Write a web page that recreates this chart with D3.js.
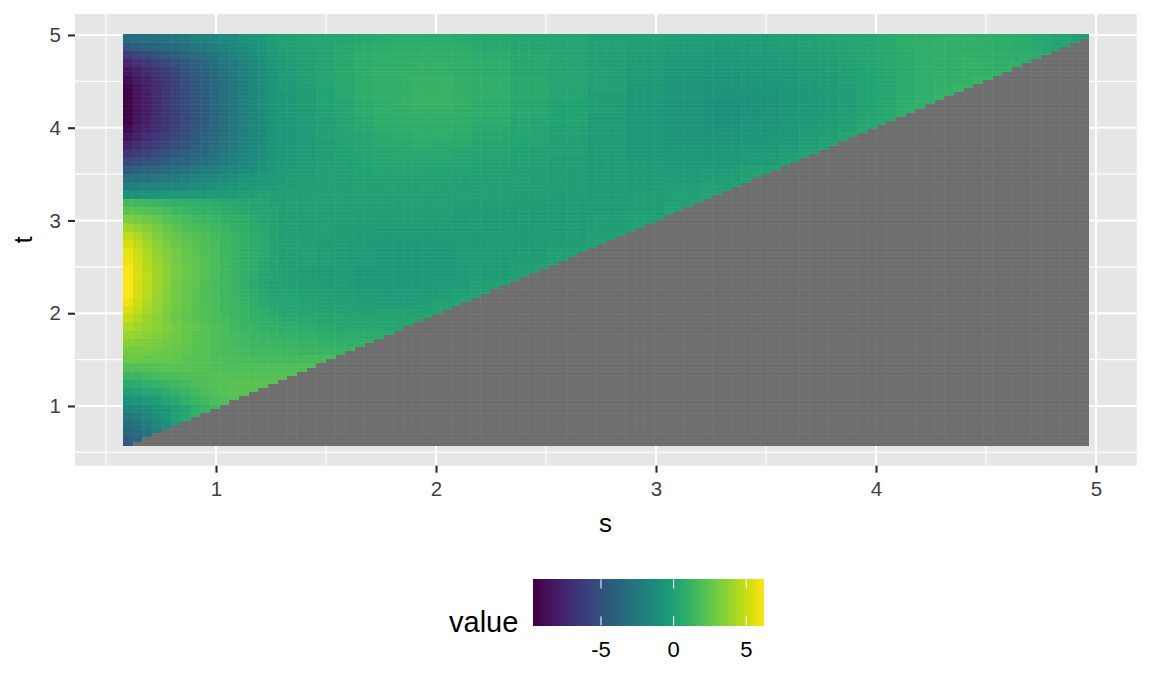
<!DOCTYPE html>
<html><head><meta charset="utf-8">
<script src="https://cdn.jsdelivr.net/npm/d3@7"></script>
<style>html,body{margin:0;padding:0;background:#fff}svg{display:block}text{font-family:"Liberation Sans",Arial,sans-serif}</style>
</head><body><svg id="c" width="1152" height="691"></svg>
<script>
const xTicks=[1,2,3,4,5], yTicks=[1,2,3,4,5], legendTicks=[-5,0,5];
const xMinor=[0.5,1.5,2.5,3.5,4.5], yMinor=[0.5,1.5,2.5,3.5,4.5];
const valueDomain=[-9.66,6.22];
const sExtent=[0.577,4.97], tExtent=[0.572,5.005], gridCells=100;
const columnSpans=[1,1,1,1,1,1,1,1,1,1,1,1,1,1,1,1, 2,2,2,2,2,2,2,2,2,2, 4,4,4,4,4,4,4,4, 2,2,2,2,2,2,2,2,2,2,2,2,2,2,2,2];
const rowSpan=2;
const valuesByRow=[
[-3.4,-3.3,-3.2,-3.1,-2.9,-2.7,-2.4,-2.2,-2,-1.8,-1.5,-1.3,-1,-.8,-.5,-.2, 0,.1,.2,.3,.4,.5,.6,.6,.6,.5, .4,.3,.2,0,-.1,-.2,-.2,-.2, -.1,0,.1,.2,.3,.5,.7,.8,.9,.9,.8,.7,.6,.4,.2,-.1],
[-4.6,-4.3,-4.1,-3.9,-3.7,-3.4,-3.1,-2.8,-2.5,-2.2,-1.9,-1.6,-1.3,-1,-.7,-.4, -.1,.1,.3,.4,.6,.7,.7,.8,.7,.7, .5,.3,.2,0,-.2,-.3,-.4,-.3, -.2,-.1,0,.1,.3,.5,.7,.8,.9,.9,.8,.7,.6,.4,.2],
[-6.2,-5.7,-5.4,-5,-4.6,-4.3,-3.9,-3.5,-3.1,-2.7,-2.3,-1.9,-1.6,-1.2,-.9,-.5, -.2,0,.3,.5,.7,.8,.8,.9,.9,.8, .6,.4,.2,0,-.2,-.4,-.5,-.4, -.3,-.2,-.1,.1,.3,.4,.6,.8,.9,1,.9,.8,.7,.6],
[-7.5,-6.9,-6.5,-6,-5.6,-5.1,-4.6,-4.1,-3.6,-3.1,-2.7,-2.3,-1.8,-1.4,-1.1,-.7, -.3,0,.3,.5,.7,.8,.9,1,1,.9, .7,.4,.2,-.1,-.3,-.5,-.6,-.5, -.4,-.3,-.2,0,.2,.4,.6,.8,.9,1,1,.9,.8],
[-8.4,-7.7,-7.3,-6.7,-6.2,-5.6,-5,-4.5,-4,-3.4,-2.9,-2.4,-2,-1.6,-1.2,-.8, -.4,-.1,.2,.5,.7,.9,1,1,1,.9, .7,.4,.2,-.1,-.4,-.6,-.7,-.6, -.5,-.4,-.2,-.1,.1,.4,.6,.8,.9,1,1,1],
[-9,-8.2,-7.7,-7,-6.5,-5.9,-5.3,-4.8,-4.2,-3.6,-3.1,-2.6,-2.1,-1.6,-1.2,-.8, -.4,-.1,.2,.5,.7,.9,1,1.1,1.1,1, .8,.5,.2,-.1,-.4,-.7,-.8,-.7, -.6,-.4,-.3,-.1,.1,.3,.6,.8,.9,1,1.1],
[-9.4,-8.5,-7.9,-7.2,-6.6,-6,-5.4,-4.9,-4.3,-3.7,-3.1,-2.6,-2.1,-1.6,-1.2,-.8, -.4,-.2,.1,.4,.7,.9,1,1.1,1.1,1, .8,.5,.2,-.1,-.5,-.8,-.9,-.8, -.6,-.5,-.3,-.2,.1,.3,.6,.8,1,1.1],
[-9.6,-8.6,-8,-7.2,-6.6,-6,-5.4,-4.9,-4.4,-3.7,-3.1,-2.6,-2.1,-1.6,-1.2,-.8, -.5,-.2,.1,.4,.7,.9,1,1.1,1.1,1, .8,.5,.2,-.2,-.5,-.8,-.9,-.9, -.7,-.5,-.4,-.2,.1,.3,.6,.8,1.1],
[-9.65,-8.6,-8,-7.3,-6.6,-6,-5.4,-4.9,-4.4,-3.7,-3.1,-2.6,-2.1,-1.6,-1.2,-.8, -.5,-.2,.1,.3,.6,.8,1,1.1,1.1,1, .7,.4,.1,-.2,-.6,-.9,-1,-.9, -.7,-.6,-.4,-.2,.1,.4,.7,.9],
[-9.6,-8.6,-8,-7.3,-6.7,-6.1,-5.5,-5,-4.4,-3.8,-3.2,-2.7,-2.2,-1.7,-1.3,-.9, -.5,-.3,0,.3,.6,.8,.9,1,1,.9, .7,.4,.1,-.2,-.6,-.9,-1,-.9, -.7,-.6,-.4,-.2,.1,.4,.8],
[-9.4,-8.5,-7.9,-7.2,-6.7,-6.1,-5.5,-5,-4.4,-3.8,-3.2,-2.7,-2.2,-1.7,-1.3,-.9, -.6,-.3,-.1,.2,.5,.7,.8,.9,.9,.8, .6,.3,.1,-.3,-.6,-.9,-1,-.9, -.6,-.5,-.3,-.1,.2,.5],
[-9,-8.1,-7.6,-7,-6.5,-5.9,-5.4,-4.9,-4.3,-3.7,-3.1,-2.6,-2.1,-1.7,-1.3,-.9, -.6,-.4,-.1,.2,.4,.6,.7,.8,.8,.7, .5,.3,0,-.3,-.6,-.8,-.9,-.8, -.6,-.4,-.2,0,.4],
[-8.4,-7.7,-7.2,-6.6,-6.1,-5.6,-5.1,-4.6,-4.1,-3.6,-3,-2.6,-2.1,-1.7,-1.3,-.9, -.6,-.4,-.1,.1,.3,.5,.6,.7,.7,.6, .4,.2,0,-.3,-.5,-.8,-.8,-.7, -.5,-.3,-.1,.2],
[-7.7,-7.1,-6.6,-6.1,-5.7,-5.2,-4.7,-4.3,-3.8,-3.3,-2.8,-2.4,-2,-1.6,-1.2,-.8, -.6,-.4,-.2,.1,.3,.4,.5,.6,.5,.5, .3,.1,-.1,-.3,-.5,-.7,-.7,-.6, -.4,-.2,.1],
[-6.8,-6.3,-5.9,-5.5,-5.1,-4.6,-4.2,-3.8,-3.4,-3,-2.6,-2.2,-1.8,-1.5,-1.1,-.8, -.5,-.3,-.2,0,.2,.3,.4,.4,.4,.3, .2,0,-.1,-.3,-.5,-.6,-.6,-.4, -.2,0],
[-5.7,-5.3,-5,-4.7,-4.4,-4,-3.7,-3.3,-3,-2.6,-2.3,-2,-1.6,-1.3,-1,-.7, -.5,-.3,-.1,0,.1,.2,.3,.3,.3,.2, .1,0,-.2,-.3,-.4,-.5,-.5,-.3, 0],
[-4.4,-4.1,-3.9,-3.6,-3.4,-3.1,-2.9,-2.6,-2.4,-2.1,-1.8,-1.6,-1.3,-1.1,-.8,-.6, -.4,-.3,-.1,0,.1,.2,.2,.2,.1,.1, 0,-.1,-.2,-.3,-.4,-.4,-.3,-.1],
[-3.2,-3,-2.9,-2.7,-2.5,-2.3,-2.1,-1.9,-1.7,-1.5,-1.3,-1.1,-.9,-.8,-.6,-.4, -.3,-.2,-.1,0,.1,.1,.1,.1,.1,0, 0,-.1,-.2,-.3,-.3,-.3,-.2,.1],
[-2.2,-2.1,-2,-1.9,-1.8,-1.6,-1.5,-1.3,-1.2,-1,-.9,-.8,-.6,-.5,-.4,-.3, -.2,-.1,-.1,0,0,0,0,0,0,0, -.1,-.1,-.2,-.3,-.3,-.2,0],
[-.9,-.9,-.8,-.8,-.7,-.6,-.6,-.5,-.5,-.4,-.3,-.3,-.2,-.2,-.1,-.1, -.1,-.1,0,0,0,0,0,0,0,-.1, -.1,-.2,-.2,-.3,-.2,-.1,.1],
[1.6,1.5,1.4,1.3,1.1,1,.9,.8,.7,.6,.5,.4,.3,.2,.1,0, 0,0,0,0,0,0,-.1,-.1,-.1,-.1, -.2,-.2,-.3,-.3,-.2,0],
[2.3,2.2,2.1,1.9,1.7,1.4,1.2,1.1,1,.9,.7,.6,.5,.3,.2,.1, 0,0,0,0,-.1,-.1,-.1,-.1,-.1,-.2, -.2,-.3,-.3,-.3,-.2,.1],
[3.2,3,2.8,2.5,2.2,1.9,1.7,1.5,1.4,1.2,1,.9,.7,.5,.3,.1, 0,0,-.1,-.1,-.2,-.2,-.2,-.2,-.2,-.3, -.3,-.3,-.3,-.2,-.1],
[4,3.7,3.4,3,2.6,2.3,2,1.8,1.6,1.4,1.2,1,.8,.6,.4,.2, 0,0,-.1,-.2,-.2,-.3,-.3,-.3,-.3,-.3, -.3,-.4,-.3,-.2,0],
[4.8,4.3,3.8,3.3,2.9,2.6,2.3,2.1,1.9,1.6,1.4,1.2,1,.7,.5,.2, 0,0,-.1,-.2,-.3,-.4,-.4,-.4,-.4,-.4, -.4,-.4,-.3,-.1],
[5.3,4.7,4.1,3.5,3.1,2.7,2.4,2.2,2,1.7,1.4,1.2,1,.7,.5,.2, 0,-.1,-.2,-.3,-.4,-.5,-.5,-.5,-.5,-.4, -.4,-.4,-.2,0],
[5.7,5,4.3,3.7,3.3,2.9,2.5,2.3,2,1.7,1.4,1.2,1,.7,.5,.2, 0,-.1,-.2,-.3,-.4,-.5,-.6,-.6,-.5,-.4, -.4,-.3,-.1],
[5.9,5.2,4.5,3.9,3.4,2.9,2.6,2.4,2.1,1.8,1.5,1.2,1,.7,.4,.2, 0,-.1,-.2,-.3,-.4,-.5,-.6,-.6,-.5,-.4, -.4,-.2,0],
[6.1,5.3,4.6,4,3.5,3,2.7,2.4,2.1,1.8,1.5,1.2,1,.7,.4,.1, -.1,-.2,-.3,-.4,-.5,-.5,-.6,-.6,-.5,-.4, -.3,-.1],
[6.2,5.3,4.7,4,3.5,3,2.7,2.4,2.1,1.7,1.5,1.2,.9,.6,.3,.1, -.1,-.2,-.3,-.4,-.5,-.6,-.6,-.6,-.5,-.4, -.3,0],
[6.2,5.2,4.6,4,3.5,2.9,2.6,2.4,2,1.7,1.5,1.2,.9,.6,.3,0, 0,-.1,-.2,-.3,-.5,-.5,-.6,-.5,-.4,-.3, -.1],
[6.1,5.2,4.6,3.9,3.4,2.9,2.6,2.3,2,1.7,1.5,1.3,1,.7,.4,.1, .1,0,-.1,-.2,-.4,-.4,-.4,-.4,-.3,-.1, 0],
[5.8,5,4.4,3.8,3.3,2.9,2.6,2.3,2,1.8,1.5,1.3,1.1,.8,.5,.3, .2,.1,0,-.1,-.2,-.3,-.3,-.2,-.1,.1],
[5.4,4.8,4.2,3.7,3.2,2.8,2.5,2.2,2,1.8,1.5,1.3,1.2,.9,.7,.5, .3,.2,.1,0,-.1,-.1,-.1,0,.1],
[4.9,4.4,3.9,3.5,3.1,2.7,2.4,2.2,2,1.8,1.6,1.4,1.2,1,.9,.7, .5,.4,.3,.2,.2,.1,.1,.2],
[4.4,4.1,3.8,3.5,3.2,2.9,2.6,2.4,2.1,1.9,1.7,1.5,1.3,1.2,1,.9, .7,.6,.4,.3,.3,.3,.3],
[3.9,3.7,3.5,3.3,3,2.8,2.6,2.3,2.1,1.9,1.7,1.6,1.4,1.3,1.2,1.1, 1,.9,.7,.6,.6,.6],
[3.4,3.3,3.2,3,2.9,2.7,2.5,2.3,2.1,1.9,1.8,1.6,1.5,1.4,1.3,1.3, 1.2,1.1,1,.9,.9],
[3,3,2.9,2.8,2.7,2.6,2.4,2.2,2.1,1.9,1.8,1.7,1.6,1.5,1.5,1.4, 1.4,1.3,1.3,1.2],
[2.7,2.7,2.6,2.6,2.6,2.5,2.3,2.2,2.1,2,1.9,1.8,1.7,1.7,1.6,1.6, 1.6,1.6,1.6],
[2,2,2.1,2.2,2.2,2.2,2.2,2.1,2.1,2,2,1.9,1.9,1.9,1.9,1.9, 1.9,1.9],
[1.2,1.3,1.5,1.6,1.7,1.8,1.9,2,2,2.1,2.1,2.1,2.1,2.1,2.1,2.1, 2.1],
[.5,.6,.8,1,1.2,1.4,1.6,1.8,2,2.1,2.1,2.2,2.2,2.2,2.2,2.2],
[-.2,0,.2,.4,.7,1,1.3,1.5,1.8,2,2.1,2.2,2.2,2.2],
[-1,-.8,-.6,-.3,.1,.4,.8,1.1,1.5,1.8,2,2.1],
[-1.9,-1.6,-1.3,-.9,-.5,-.1,.3,.7,1.1,1.5],
[-2.8,-2.4,-1.8,-1.2,-.7,0,.5,.9],
[-3.4,-3,-2.4,-1.7,-1.1,-.4],
[-3.9,-3.5,-2.8,-2.1],
[-4.6,-4.1]
];

const svg=d3.select("#c");
const channelGamma=[1.05,1.14,1.2];
const fill=v=>{const c=d3.rgb(d3.interpolateViridis((v-valueDomain[0])/(valueDomain[1]-valueDomain[0])));
  const f=(u,g)=>255*Math.pow(u/255,g);return d3.rgb(f(c.r,channelGamma[0]),f(c.g,channelGamma[1]),f(c.b,channelGamma[2])).formatHex();};
const naFill="#6e6e6e", panelFill="#e6e6e6", tickCol="#2b2b2b", tickText="#3f3f3f";

const x=d3.scaleLinear().domain([0.359,5.185]).range([75,1136.7]);
const y=d3.scaleLinear().domain([0.356,5.226]).range([465.7,14]);
const sEdge=i=>sExtent[0]+i*(sExtent[1]-sExtent[0])/gridCells;
const tEdge=j=>tExtent[0]+j*(tExtent[1]-tExtent[0])/gridCells;

svg.append("rect").attr("x",x.range()[0]).attr("y",y.range()[1]).attr("width",x.range()[1]-x.range()[0]).attr("height",y.range()[0]-y.range()[1]).attr("fill",panelFill);
const grid=svg.append("g").attr("stroke","#fff").attr("fill","none");
grid.selectAll(".vm").data(xMinor).join("line").attr("x1",x).attr("x2",x).attr("y1",y.range()[0]).attr("y2",y.range()[1]).attr("stroke-width",1.1);
grid.selectAll(".hm").data(yMinor).join("line").attr("y1",y).attr("y2",y).attr("x1",x.range()[0]).attr("x2",x.range()[1]).attr("stroke-width",1.1);
grid.selectAll(".vM").data(xTicks).join("line").attr("x1",x).attr("x2",x).attr("y1",y.range()[0]).attr("y2",y.range()[1]).attr("stroke-width",2.1);
grid.selectAll(".hM").data(yTicks).join("line").attr("y1",y).attr("y2",y).attr("x1",x.range()[0]).attr("x2",x.range()[1]).attr("stroke-width",2.1);

// value tiles
const colStart=d3.cumsum([0,...columnSpans]);
const tiles=valuesByRow.flatMap((row,r)=>row.map((v,c)=>({v,c,r})));
svg.append("g").attr("shape-rendering","crispEdges").selectAll("rect").data(tiles).join("rect")
 .attr("x",d=>x(sEdge(colStart[d.c]))).attr("width",d=>x(sEdge(colStart[d.c+1]))-x(sEdge(colStart[d.c])))
 .attr("y",d=>y(tEdge(gridCells-rowSpan*d.r))).attr("height",d=>y(tEdge(gridCells-rowSpan*(d.r+1)))-y(tEdge(gridCells-rowSpan*d.r)))
 .attr("fill",d=>fill(d.v));
// NA cells where s > t
svg.append("g").attr("shape-rendering","crispEdges").selectAll("rect").data(d3.range(gridCells-1)).join("rect")
 .attr("x",j=>x(sEdge(j+1))).attr("width",j=>x(sEdge(gridCells))-x(sEdge(j+1)))
 .attr("y",j=>y(tEdge(j+1))).attr("height",j=>y(tEdge(j))-y(tEdge(j+1))).attr("fill",naFill);
// faint seams between raster cells
const seams=svg.append("g").attr("stroke","#fff").attr("stroke-opacity",0.045).attr("stroke-width",1);
seams.selectAll(".sv").data(d3.range(1,gridCells)).join("line").attr("x1",i=>x(sEdge(i))).attr("x2",i=>x(sEdge(i))).attr("y1",y(tExtent[0])).attr("y2",y(tExtent[1]));
seams.selectAll(".sh").data(d3.range(1,gridCells)).join("line").attr("y1",j=>y(tEdge(j))).attr("y2",j=>y(tEdge(j))).attr("x1",x(sExtent[0])).attr("x2",x(sExtent[1]));

// axes
const axX=svg.append("g").attr("transform",`translate(0,${y.range()[0]})`).call(d3.axisBottom(x).tickValues(xTicks).tickSize(7).tickPadding(8.5).tickFormat(d3.format("d")));
const axY=svg.append("g").attr("transform",`translate(${x.range()[0]},0)`).call(d3.axisLeft(y).tickValues(yTicks).tickSize(7).tickPadding(7).tickFormat(d3.format("d")));
[axX,axY].forEach(a=>{a.select(".domain").remove();a.selectAll("line").attr("stroke",tickCol).attr("stroke-width",2.1);
 a.selectAll("text").attr("fill",tickText).attr("font-size",20.5).attr("font-family",'"Liberation Sans",Arial,sans-serif');});
svg.append("text").attr("x",605.5).attr("y",532).attr("text-anchor","middle").attr("font-size",26).attr("fill","#000").text("s");
svg.append("text").attr("transform","translate(32,240) rotate(-90)").attr("text-anchor","middle").attr("font-size",26).attr("fill","#000").text("t");

// legend
const lx=d3.scaleLinear().domain(valueDomain).range([533.3,764]);
const legendSteps=d3.range(valueDomain[0],valueDomain[1],(valueDomain[1]-valueDomain[0])/231);
svg.append("g").attr("shape-rendering","crispEdges").selectAll("rect").data(legendSteps).join("rect")
 .attr("x",v=>lx(v)).attr("width",1.2).attr("y",579.3).attr("height",46.2).attr("fill",v=>fill(v));
const lt=svg.append("g").attr("stroke","#fff").attr("stroke-width",1);
lt.selectAll(".a").data(legendTicks).join("line").attr("x1",lx).attr("x2",lx).attr("y1",579.3).attr("y2",588.5);
lt.selectAll(".b").data(legendTicks).join("line").attr("x1",lx).attr("x2",lx).attr("y1",616.3).attr("y2",625.5);
svg.append("g").selectAll("text").data(legendTicks).join("text").attr("x",lx).attr("y",657).attr("text-anchor","middle").attr("font-size",22).attr("fill","#000").text(d=>d3.format("d")(d).replace("−","-"));
svg.append("text").attr("x",449).attr("y",631.5).attr("font-size",29).attr("fill","#000").text("value");
</script></body></html>
